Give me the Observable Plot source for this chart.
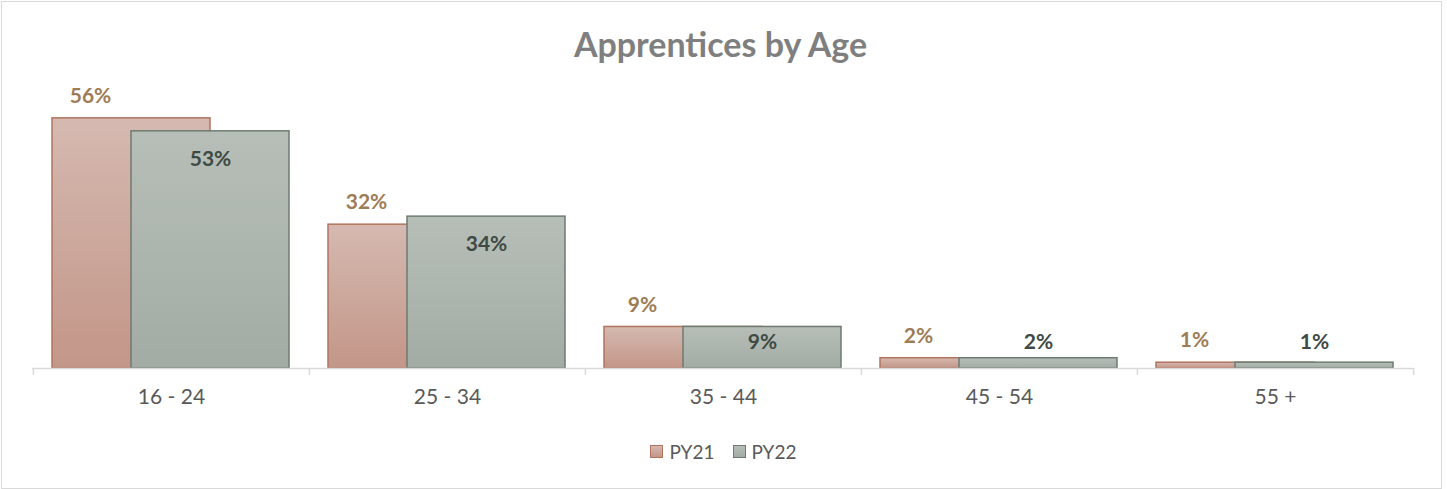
<!DOCTYPE html>
<html>
<head>
<meta charset="utf-8">
<script src="https://cdn.jsdelivr.net/npm/d3@7"></script>
<script src="https://cdn.jsdelivr.net/npm/@observablehq/plot@0.6"></script>
<style>
  html, body { margin: 0; padding: 0; background: #fff; }
  #wrap { position: relative; width: 1447px; height: 489px; overflow: hidden; font-family: Lato, "Open Sans", sans-serif; }
  #frame { position: absolute; left: 1px; top: 1px; width: 1441px; height: 488px; box-sizing: border-box; border: 1px solid #d9d9d9; }
  #title { position: absolute; left: -3px; width: 1447px; top: 24px; text-align: center; font-size: 34px; font-weight: bold; color: #7f7f7f; line-height: 40px; }
  #chart { position: absolute; left: 0; top: 0; }
  #legend { position: absolute; top: 440px; left: 0; width: 1447px; display: flex; justify-content: center; gap: 18px; font-size: 19px; color: #595959; }
  .item { display: flex; align-items: center; gap: 6px; }
  .sw { width: 11px; height: 11px; display: inline-block; }
</style>
</head>
<body>
<div id="wrap">
  <div id="frame"></div>
  <div id="title">Apprentices by Age</div>
  <div id="chart"></div>
  <div id="legend"></div>
</div>
<script>
const ages = ["16 - 24", "25 - 34", "35 - 44", "45 - 54", "55 +"];
const seriesNames = ["PY21", "PY22"];
const py21 = [56.0, 32.2, 9.3, 2.3, 1.3];
const py22 = [53.1, 34.0, 9.3, 2.3, 1.3];

const d21 = ages.map((a, i) => ({age: a, value: py21[i]}));
const d22 = ages.map((a, i) => ({age: a, value: py22[i]}));

const W = 1447, H = 489, mL = 32, mR = 34, mT = 100, mB = 121;
const half = (W - mL - mR) / ages.length / 2;
const fmt = v => Math.round(v) + "%";

const col = {
  PY21: {top: "#d5b9b0", bottom: "#c39688", stroke: "#b07460", label: "#9e7c56"},
  PY22: {top: "#b7beb8", bottom: "#a2aca4", stroke: "#6d7b71", label: "#3f4a44"}
};

const chart = Plot.plot({
  width: W, height: H,
  marginLeft: mL, marginRight: mR, marginTop: mT, marginBottom: mB,
  style: {fontFamily: "Lato, 'Open Sans', sans-serif", fontSize: "21px", color: "#595959", background: "transparent"},
  x: {type: "band", domain: ages, padding: 0, tickSize: 0, tickPadding: 21, label: null},
  y: {domain: [0, 60], axis: null},
  marks: [
    Plot.barY(d21, {x: "age", y: "value", fill: "url(#g21)", stroke: col.PY21.stroke, strokeWidth: 1.5, insetLeft: 19, insetRight: 99}),
    Plot.barY(d22, {x: "age", y: "value", fill: "url(#g22)", stroke: col.PY22.stroke, strokeWidth: 1.5, insetLeft: 98, insetRight: 20}),
    Plot.ruleY([0], {stroke: "#d9d9d9", strokeWidth: 1.5}),
    Plot.ruleX(ages, {x: d => d, dx: -half, y1: 0, y2: 0, insetBottom: -7, stroke: "#d9d9d9", strokeWidth: 1.5}),
    Plot.ruleX(ages.slice(-1), {x: d => d, dx: half, y1: 0, y2: 0, insetBottom: -7, stroke: "#d9d9d9", strokeWidth: 1.5}),
    Plot.text(d21, {x: "age", y: "value", text: d => fmt(d.value), dx: -81, dy: -22, fill: col.PY21.label, fontWeight: "bold", fontSize: 21}),
    Plot.text(d22, {x: "age", y: d => Math.max(d.value - 6.2, 5.9), text: d => fmt(d.value), dx: 39, fill: col.PY22.label, fontWeight: "bold", fontSize: 21})
  ]
});

// gradients for bar fills
const ns = "http://www.w3.org/2000/svg";
const defs = document.createElementNS(ns, "defs");
for (const [id, c] of [["g21", col.PY21], ["g22", col.PY22]]) {
  const g = document.createElementNS(ns, "linearGradient");
  g.setAttribute("id", id);
  g.setAttribute("x1", "0"); g.setAttribute("y1", "0"); g.setAttribute("x2", "0"); g.setAttribute("y2", "1");
  for (const [off, color] of [["0", c.top], ["1", c.bottom]]) {
    const s = document.createElementNS(ns, "stop");
    s.setAttribute("offset", off); s.setAttribute("stop-color", color);
    g.appendChild(s);
  }
  defs.appendChild(g);
}
chart.insertBefore(defs, chart.firstChild);
document.getElementById("chart").appendChild(chart);

// legend
const legend = document.getElementById("legend");
for (const name of seriesNames) {
  const item = document.createElement("div");
  item.className = "item";
  const sw = document.createElement("span");
  sw.className = "sw";
  sw.style.background = `linear-gradient(${col[name].top}, ${col[name].bottom})`;
  sw.style.border = `1.5px solid ${col[name].stroke}`;
  const t = document.createElement("span");
  t.textContent = name;
  item.appendChild(sw); item.appendChild(t);
  legend.appendChild(item);
}
</script>
</body>
</html>
